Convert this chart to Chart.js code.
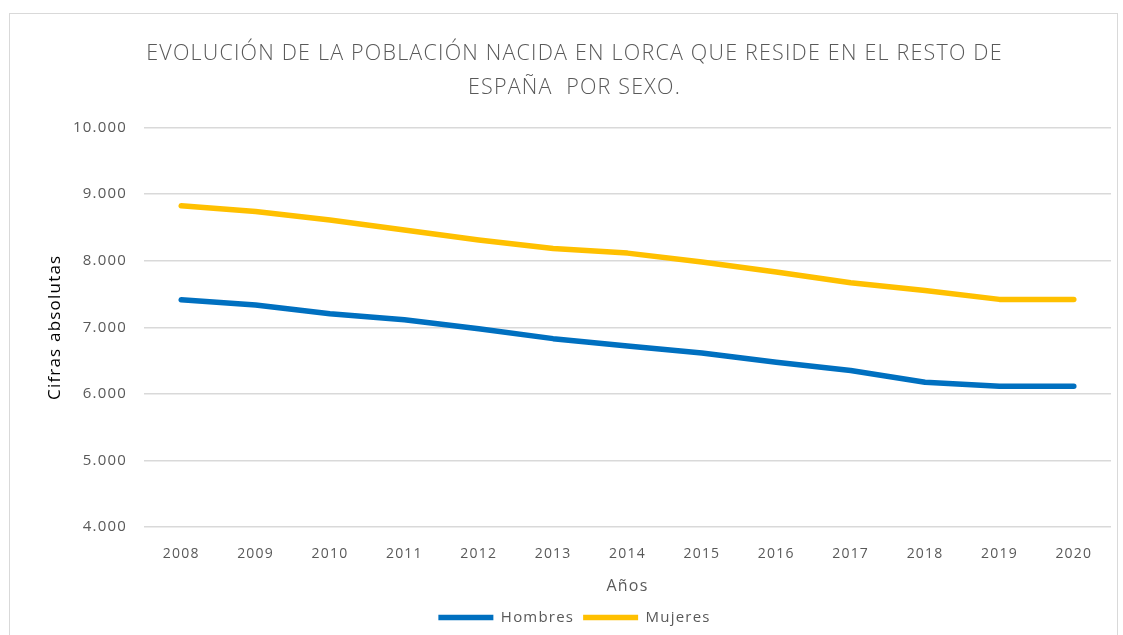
<!DOCTYPE html>
<html>
<head>
<meta charset="utf-8">
<script src="https://cdn.jsdelivr.net/npm/chart.js@4"></script>
<style>
  body { margin: 0; background: #fff; }
  #wrap { position: relative; width: 1123px; height: 635px; }
  #frame { position: absolute; left: 9px; top: 13px; width: 1107px; height: 640px; border: 1px solid #d9d9d9; pointer-events: none; }
</style>
</head>
<body>
<div id="wrap">
  <canvas id="lineChart" width="1123" height="635"></canvas>
  <div id="frame"></div>
</div>
<script>
// Data
const years = ['2008', '2009', '2010', '2011', '2012', '2013', '2014', '2015', '2016', '2017', '2018', '2019', '2020'];
const hombres = [7416, 7335, 7205, 7115, 6980, 6830, 6720, 6615, 6475, 6350, 6175, 6115, 6115];
const mujeres = [8828, 8740, 8612, 8462, 8311, 8185, 8115, 7980, 7830, 7670, 7555, 7420, 7420];
const yTicks = [4000, 5000, 6000, 7000, 8000, 9000, 10000];

const grey = '#595959';
const fontFam = '"Open Sans", "Liberation Sans", sans-serif';
const leftPad = 38;

const fmt = v => v.toLocaleString('de-DE');

// Excel spaces its letters a bit wider than the browser does
const spacing = {
    id: 'spacing',
    beforeLayout: chart => { chart.ctx.letterSpacing = '1.2px'; },
    beforeDraw: chart => { chart.ctx.letterSpacing = '1.2px'; }
};

const ctx = document.getElementById('lineChart').getContext('2d');
const lineChart = new Chart(ctx, {
    type: 'line',
    data: {
        labels: years,
        datasets: [
            {
                label: 'Hombres',
                data: hombres,
                borderColor: '#0070c0',
                backgroundColor: '#0070c0',
                borderWidth: 5.5,
                borderCapStyle: 'round',
                borderJoinStyle: 'round',
                pointRadius: 0,
                pointStyle: 'line',
                tension: 0
            },
            {
                label: 'Mujeres',
                data: mujeres,
                borderColor: '#ffc000',
                backgroundColor: '#ffc000',
                borderWidth: 5.5,
                borderCapStyle: 'round',
                borderJoinStyle: 'round',
                pointRadius: 0,
                pointStyle: 'line',
                tension: 0
            }
        ]
    },
    options: {
        responsive: false,
        animation: false,
        layout: {
            padding: { left: leftPad, right: 12, top: 0, bottom: 0 }
        },
        plugins: {
            title: {
                display: true,
                text: ['EVOLUCIÓN DE LA POBLACIÓN NACIDA EN LORCA QUE RESIDE EN EL RESTO DE', 'ESPAÑA  POR SEXO.'],
                color: grey,
                font: { family: fontFam, size: 21.5, weight: '300', lineHeight: 1.62 },
                padding: { top: 36, bottom: 22 }
            },
            legend: {
                position: 'bottom',
                labels: {
                    color: grey,
                    font: { family: fontFam, size: 15 },
                    usePointStyle: true,
                    pointStyleWidth: 55,
                    boxHeight: 6,
                    padding: 9
                }
            },
            tooltip: { enabled: false }
        },
        scales: {
            x: {
                offset: true,
                grid: { display: false },
                border: { display: false },
                ticks: {
                    color: grey,
                    font: { family: fontFam, size: 14 },
                    padding: 11
                },
                title: {
                    display: true,
                    text: 'Años',
                    color: grey,
                    font: { family: fontFam, size: 16 },
                    padding: { top: 3, bottom: 5 }
                }
            },
            y: {
                min: 4000,
                max: 10000,
                afterBuildTicks: axis => { axis.ticks = yTicks.map(v => ({ value: v })); },
                afterFit: axis => { axis.width = 144 - leftPad; },
                grid: { color: '#d9d9d9', lineWidth: 1.5, drawTicks: false },
                border: { display: false },
                ticks: {
                    color: grey,
                    font: { family: fontFam, size: 15 },
                    padding: 17,
                    callback: v => fmt(v)
                },
                title: {
                    display: true,
                    text: 'Cifras absolutas',
                    color: '#000',
                    font: { family: fontFam, size: 17 },
                    padding: { top: 7, bottom: 6 }
                }
            }
        }
    },
    plugins: [spacing]
});
</script>
</body>
</html>
